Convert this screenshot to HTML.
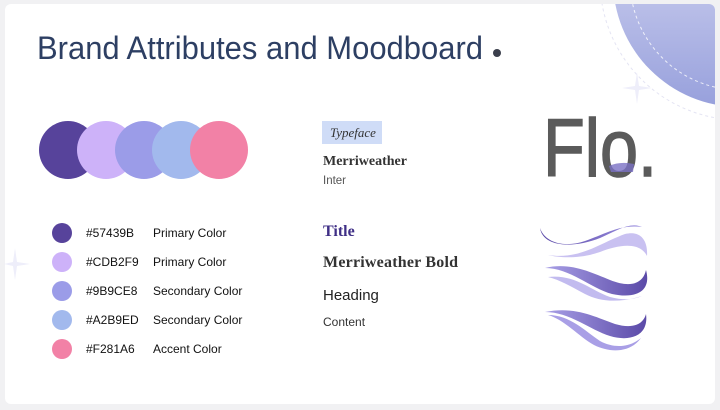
<!DOCTYPE html>
<html><head><meta charset="utf-8"><style>
html,body{margin:0;padding:0;background:#f1f1f3;}
svg{display:block}
</style></head><body>
<svg width="720" height="410" viewBox="0 0 720 410" xmlns="http://www.w3.org/2000/svg">
<defs>
<clipPath id="card"><rect x="5" y="4" width="710" height="400" rx="6"/></clipPath>
<linearGradient id="cg" x1="0" y1="0" x2="0" y2="1"><stop offset="0" stop-color="#ecebfa"/><stop offset="1" stop-color="#97a0dc"/></linearGradient>
<linearGradient id="w1" x1="0" y1="0" x2="1" y2="0"><stop offset="0" stop-color="#5b4aa8"/><stop offset="1" stop-color="#9b8fe0"/></linearGradient>
<linearGradient id="w2" x1="0" y1="0" x2="1" y2="0"><stop offset="0" stop-color="#a89fe6"/><stop offset="1" stop-color="#5b4aa8"/></linearGradient>
</defs>
<rect x="5" y="4" width="710" height="400" rx="6" fill="#fff"/>
<g clip-path="url(#card)">
<circle cx="740" cy="-20" r="127" fill="url(#cg)"/>
<circle cx="740" cy="-20" r="140" fill="none" stroke="#e4e4f3" stroke-width="1" stroke-dasharray="3 3"/>
<circle cx="740" cy="-20" r="110" fill="none" stroke="#fff" stroke-width="1" stroke-dasharray="3 3" opacity=".8"/>
</g>
<path d="M637 72 L639 86 L652 88 L639 90 L637 104 L635 90 L622 88 L635 86Z" fill="#eeeefa"/>
<path d="M15 248 L17 262 L30 264 L17 266 L15 280 L13 266 L4 264 L13 262Z" fill="#eeeefa"/>
<text x="37" y="59" font-family="Liberation Sans, sans-serif" font-size="32" fill="#2d3f63" textLength="446" lengthAdjust="spacingAndGlyphs">Brand Attributes and Moodboard</text>
<circle cx="497" cy="53" r="4" fill="#3b3f4c"/>
<circle cx="68" cy="150" r="29" fill="#57439B"/>
<circle cx="106" cy="150" r="29" fill="#CDB2F9"/>
<circle cx="144" cy="150" r="29" fill="#9B9CE8"/>
<circle cx="181" cy="150" r="29" fill="#A2B9ED"/>
<circle cx="219" cy="150" r="29" fill="#F281A6"/>
<g font-family="Liberation Sans, sans-serif" font-size="12" fill="#111">
<circle cx="62" cy="233" r="10" fill="#57439B"/><text x="86" y="237">#57439B</text><text x="153" y="237">Primary Color</text>
<circle cx="62" cy="262" r="10" fill="#CDB2F9"/><text x="86" y="266">#CDB2F9</text><text x="153" y="266">Primary Color</text>
<circle cx="62" cy="291" r="10" fill="#9B9CE8"/><text x="86" y="295">#9B9CE8</text><text x="153" y="295">Secondary Color</text>
<circle cx="62" cy="320" r="10" fill="#A2B9ED"/><text x="86" y="324">#A2B9ED</text><text x="153" y="324">Secondary Color</text>
<circle cx="62" cy="349" r="10" fill="#F281A6"/><text x="86" y="353">#F281A6</text><text x="153" y="353">Accent Color</text>
</g>
<rect x="322" y="121" width="60" height="23" fill="#cfdcf7"/>
<text x="330" y="137" font-family="Liberation Serif, serif" font-style="italic" font-size="13" fill="#333">Typeface</text>
<text x="323" y="165" font-family="Liberation Serif, serif" font-weight="bold" font-size="14" fill="#333">Merriweather</text>
<text x="323" y="184" font-family="Liberation Sans, sans-serif" font-size="11.5" fill="#555">Inter</text>
<text x="323" y="236" font-family="Liberation Serif, serif" font-weight="bold" font-size="16" fill="#3f2f86">Title</text>
<text x="323" y="267" font-family="Liberation Serif, serif" font-weight="bold" font-size="16" fill="#333" textLength="135">Merriweather Bold</text>
<text x="323" y="300" font-family="Liberation Sans, sans-serif" font-size="15" fill="#222">Heading</text>
<text x="323" y="326" font-family="Liberation Sans, sans-serif" font-size="12" fill="#333">Content</text>
<text x="543" y="176" font-family="Liberation Sans, sans-serif" font-size="82" fill="#5b5b5b" stroke="#5b5b5b" stroke-width="1.5" textLength="114" lengthAdjust="spacingAndGlyphs">Flo.</text>
<path d="M609 166 Q620 161 634 164 L633 172 L611 172Z" fill="#7b70c4" opacity=".8"/>
<!-- waves -->
<path d="M540 228 C543 248 575 248 600 238 C620 229 630 222 642 227 C620 224 605 234 585 241 C565 248 545 243 540 228Z" fill="url(#w1)"/>
<path d="M548 255 C580 260 600 243 625 234 C642 230 648 242 647 256 C640 242 620 244 600 252 C580 259 560 258 548 255Z" fill="#c9c1f1"/>
<path d="M545 268 C570 262 590 272 610 280 C630 288 643 284 646 270 C652 292 635 299 612 294 C590 288 570 268 545 268Z" fill="url(#w2)"/>
<path d="M548 277 C575 274 590 290 610 297 C625 301 635 299 642 296 C620 303 600 302 585 294 C570 286 560 280 548 277Z" fill="#c2bbef"/>
<path d="M545 312 C575 306 595 317 615 324 C632 329 643 325 646 314 C649 336 630 342 610 336 C590 330 570 312 545 312Z" fill="url(#w2)"/>
<path d="M548 315 C570 315 585 331 600 341 C615 349 630 347 641 338 C630 353 610 353 594 345 C578 336 565 320 548 315Z" fill="#a99fe6"/>
</svg>
</body></html>
